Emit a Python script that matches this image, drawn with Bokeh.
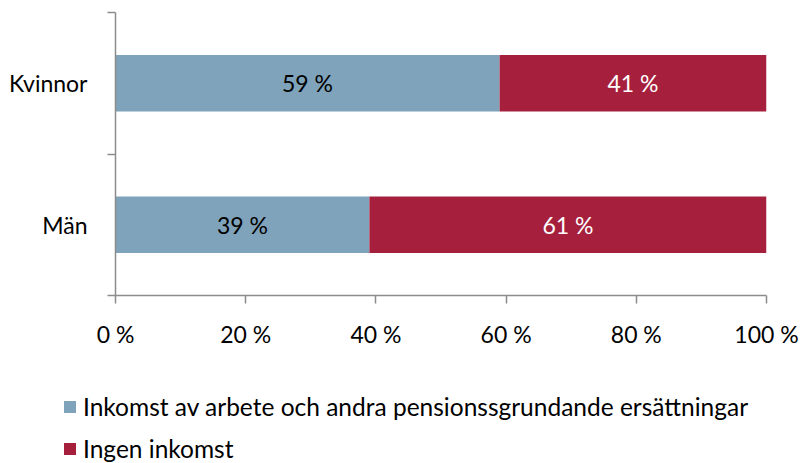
from bokeh.plotting import figure
from bokeh.layouts import column, row
from bokeh.models import (Range1d, LinearAxis, FixedTicker, ColumnDataSource,
                          Legend, LegendItem, LabelSet)
from bokeh.core.properties import value
from bokeh.embed import file_html
from bokeh.resources import INLINE

categories = ["Kvinnor", "Män"]
cat_pos = [1.5, 0.5]
arbete = [59, 39]
ingen = [41, 61]
series_names = ["Inkomst av arbete och andra pensionssgrundande ersättningar", "Ingen inkomst"]
colors = ["#7EA3BA", "#A6203D"]
x_ticks = [0, 20, 40, 60, 80, 100]
x_tick_labels = {t: f"{t} %" for t in x_ticks}

FONT = "Lato"
FS = "23px"
LEG_FS = "24.5px"

src = ColumnDataSource(dict(
    y=cat_pos, arbete=arbete, ingen=ingen,
    left1=[0] * len(arbete), right1=arbete,
    left2=arbete, right2=[a + b for a, b in zip(arbete, ingen)],
    mid1=[a / 2 for a in arbete],
    mid2=[a + b / 2 for a, b in zip(arbete, ingen)],
    lab1=[f"{a} %" for a in arbete],
    lab2=[f"{b} %" for b in ingen],
))

p = figure(width=800, height=350, output_backend="svg", toolbar_location=None,
           x_range=Range1d(0, 100), y_range=Range1d(0, 2),
           x_axis_location=None, y_axis_location=None,
           min_border_left=115, min_border_right=34, min_border_top=12,
           min_border_bottom=54)
p.outline_line_color = None
p.grid.visible = False
p.background_fill_color = "white"
p.border_fill_color = "white"

r1 = p.hbar(y="y", left="left1", right="right1", height=0.4, source=src,
            fill_color=colors[0], line_color=None)
r2 = p.hbar(y="y", left="left2", right="right2", height=0.4, source=src,
            fill_color=colors[1], line_color=None)

p.add_layout(LabelSet(x="mid1", y="y", text="lab1", source=src,
                      text_align="center", text_baseline="middle",
                      text_font=value(FONT), text_font_size=value(FS), text_color="black"))
p.add_layout(LabelSet(x="mid2", y="y", text="lab2", source=src,
                      text_align="center", text_baseline="middle",
                      text_font=value(FONT), text_font_size=value(FS), text_color="white"))

# y-axis with separator ticks
ytick_axis = LinearAxis(ticker=FixedTicker(ticks=[0, 1, 2]),
                        major_label_overrides={0: "", 1: "", 2: ""},
                        major_label_text_font_size="0px", major_label_standoff=0,
                        axis_line_color="#8C8C8C", axis_line_width=1.5,
                        major_tick_line_color="#8C8C8C", major_tick_line_width=1.5,
                        major_tick_in=0, major_tick_out=8, minor_tick_line_color=None)
p.add_layout(ytick_axis, "left")
# y-axis with category labels
ylab_axis = LinearAxis(ticker=FixedTicker(ticks=cat_pos),
                       major_label_overrides={pos: c for pos, c in zip(cat_pos, categories)},
                       major_label_text_font=FONT, major_label_text_font_size=FS,
                       major_label_text_color="black", major_label_standoff=14,
                       axis_line_color=None, major_tick_line_color=None,
                       minor_tick_line_color=None)
p.add_layout(ylab_axis, "left")

xaxis = LinearAxis(ticker=FixedTicker(ticks=x_ticks),
                   major_label_overrides=x_tick_labels,
                   major_label_text_font=FONT, major_label_text_font_size=FS,
                   major_label_text_color="black", major_label_standoff=16,
                   axis_line_color="#8C8C8C", axis_line_width=1.5,
                   major_tick_line_color="#8C8C8C", major_tick_line_width=1.5,
                   major_tick_in=0, major_tick_out=8, minor_tick_line_color=None)
p.add_layout(xaxis, "below")

# legend panel (separate figure so the legend is not clipped by the plot frame)
lp = figure(width=800, height=113, output_backend="svg", toolbar_location=None,
            x_range=Range1d(0, 1), y_range=Range1d(0, 1),
            x_axis_location=None, y_axis_location=None,
            min_border=0)
lp.outline_line_color = None
lp.grid.visible = False
# legend-only renderers, placed outside the visible range
lsrc = ColumnDataSource(dict(y=[-5], left=[0], right=[1]))
lr1 = lp.hbar(y="y", left="left", right="right", height=0.5, source=lsrc,
              fill_color=colors[0], line_color=None)
lr2 = lp.hbar(y="y", left="left", right="right", height=0.5, source=lsrc,
              fill_color=colors[1], line_color=None)
legend = Legend(items=[LegendItem(label=series_names[0], renderers=[lr1]),
                       LegendItem(label=series_names[1], renderers=[lr2])],
                location=(62, 0), orientation="vertical",
                label_text_font=FONT, label_text_font_size=LEG_FS,
                label_text_color="black", glyph_width=15, glyph_height=15,
                spacing=13, padding=0, margin=0, label_standoff=6,
                border_line_color=None, background_fill_alpha=0)
lp.add_layout(legend, "center")

open("out.html", "w").write(file_html(column(p, row(lp), spacing=0), INLINE))
